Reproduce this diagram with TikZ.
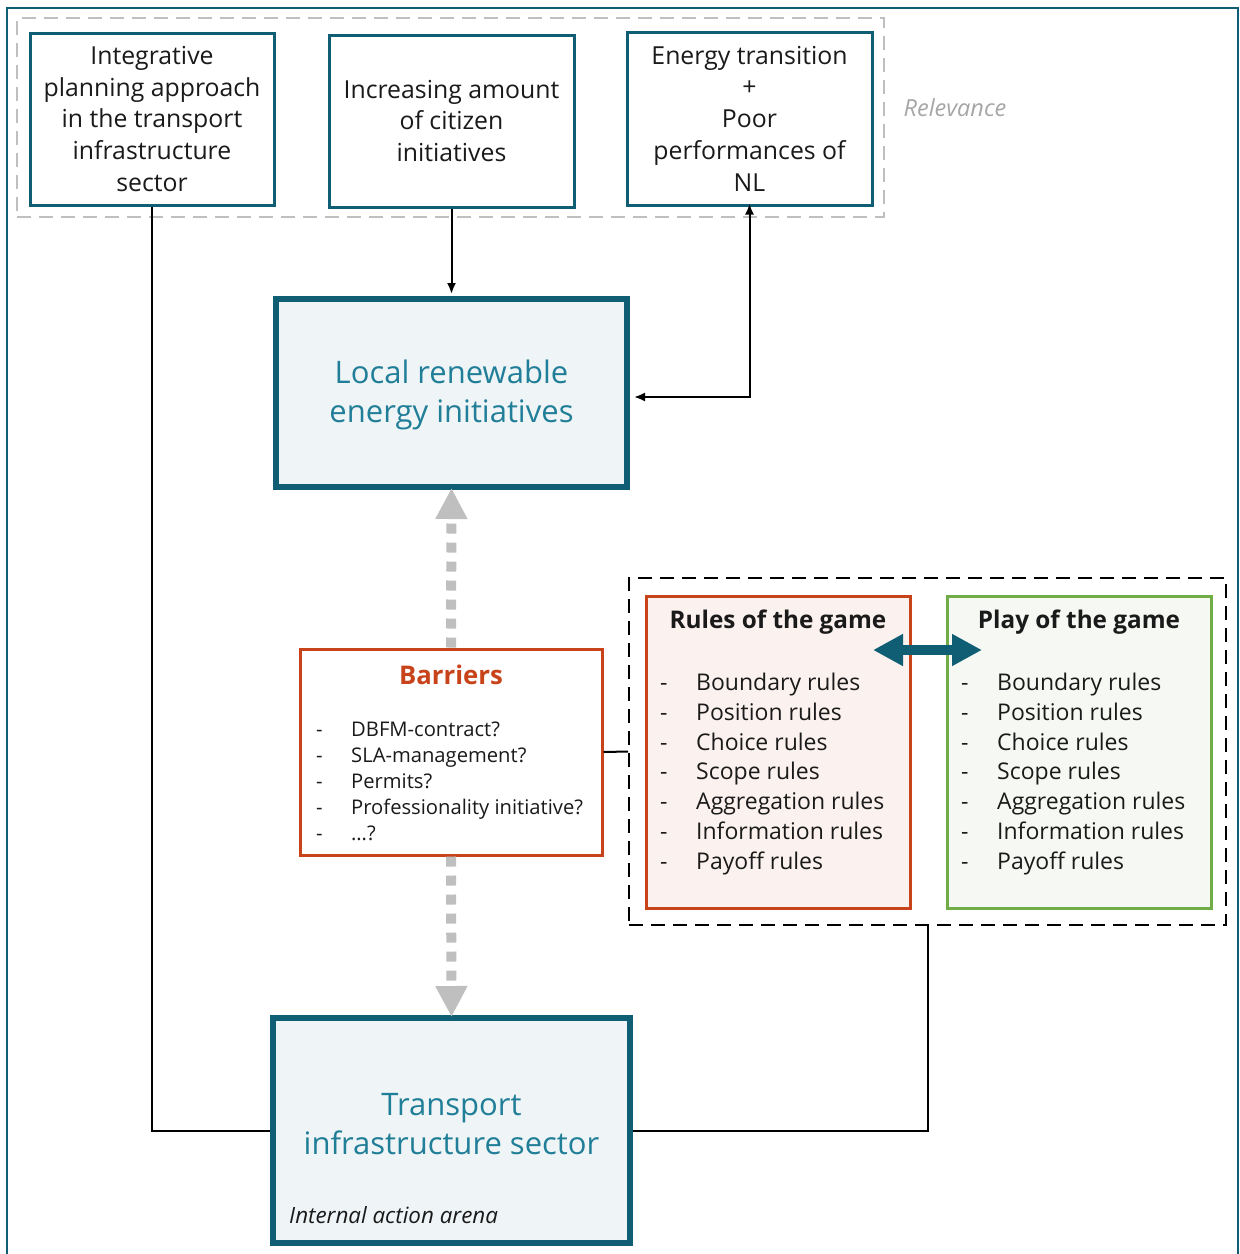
\documentclass[tikz,border=0pt]{standalone}
\usepackage{fontspec}
\setmainfont{Open Sans}
\usetikzlibrary{arrows.meta}
\definecolor{tealdark}{HTML}{0F5E74}
\definecolor{tealfill}{HTML}{EFF5F6}
\definecolor{tealtext}{HTML}{217E98}
\definecolor{barred}{HTML}{C9431A}
\definecolor{rulefill}{HTML}{FBF1EE}
\definecolor{playgreen}{HTML}{70AD47}
\definecolor{playfill}{HTML}{F6F9F3}
\definecolor{softgray}{HTML}{BFBFBF}
\definecolor{labelgray}{HTML}{A6A6A6}
\definecolor{ink}{HTML}{1A1A1A}
\begin{document}
\begin{tikzpicture}[x=1pt,y=-1pt,
  topbox/.style={draw=tealdark, line width=3pt, fill=white, align=center, inner sep=0pt,
    text=ink, font=\fontsize{24.8}{31.7}\selectfont, minimum width=244pt, minimum height=172pt},
  bigbox/.style={draw=tealdark, line width=6pt, fill=tealfill, inner sep=0pt},
  bigtext/.style={text=tealtext, align=center, font=\fontsize{31}{39}\selectfont},
  listbox/.style={draw, line width=3pt, inner sep=0pt, minimum width=264pt, minimum height=312pt},
  listtext/.style={align=left, anchor=west, text=ink, inner sep=0pt},
  gametitle/.style={text=ink, font=\fontsize{24.3}{28}\selectfont\bfseries},
  link/.style={draw=black, line width=2pt},
  smalltip/.tip={Latex[length=11pt,width=9pt]},
  graytip/.tip={Triangle[length=31pt,width=30pt]},
  bigtip/.tip={Triangle[length=30pt,width=30pt]},
  grayflow/.style={draw=softgray, line width=10pt, dash pattern=on 10pt off 9pt},
]
\useasboundingbox (0,0) rectangle (1240,1254);
% outer frame
\draw[tealdark, line width=2pt] (7,1262) -- (7,8) -- (1238,8) -- (1238,1262);

% relevance group
\node[draw=softgray, line width=2pt, dash pattern=on 14pt off 8pt, minimum width=867pt, minimum height=199pt, inner sep=0pt] (relbox) at (450.5,117.5) {};
\node[text=labelgray, font=\fontsize{23.5}{28}\selectfont\itshape] (rellabel) at (955,108) {Relevance};

\node[topbox] (integ) at (152,119) {Integrative\\planning approach\\in the transport\\infrastructure\\sector};
\node[topbox, minimum width=245pt] (citizen) at (451.5,121) {Increasing amount\\of citizen\\initiatives};
\node[topbox, minimum width=245pt, minimum height=173pt] (energy) at (749.5,118.5) {Energy transition\\+\\Poor\\performances of\\NL};

% central boxes
\node[bigbox, minimum width=351pt, minimum height=188pt] (local) at (451.5,393) {};
\node[bigtext] (localtxt) at (451.5,395) {Local renewable\\energy initiatives};

\node[bigbox, minimum width=357pt, minimum height=225pt] (transport) at (451.5,1130.5) {};
\node[bigtext] (transtxt) at (451.5,1124) {Transport\\infrastructure sector};
\node[anchor=west, text=ink, inner sep=0pt, font=\fontsize{22.4}{26}\selectfont\itshape] (arena) at (289,1215) {Internal action arena};

% barriers
\node[draw=barred, line width=3pt, fill=white, inner sep=0pt, minimum width=302pt, minimum height=206pt] (barriers) at (451,752) {};
\node[text=barred, font=\fontsize{25.7}{30}\selectfont\bfseries] (bartitle) at (451,675) {Barriers};
\node[listtext, font=\fontsize{20.2}{26}\selectfont] (barlist) at (316,781)
  {\makebox[35pt][l]{-}DBFM-contract?\\\makebox[35pt][l]{-}SLA-management?\\\makebox[35pt][l]{-}Permits?\\\makebox[35pt][l]{-}Professionality initiative?\\\makebox[35pt][l]{-}…?};

% rules and play of the game
\node[draw=black, line width=2pt, dash pattern=on 14pt off 8pt, inner sep=0pt, minimum width=597pt, minimum height=347pt] (gamebox) at (927.5,751.5) {};
\node[listbox, draw=barred, fill=rulefill] (rules) at (778,752) {};
\node[listbox, draw=playgreen, fill=playfill] (play) at (1079,752) {};
\node[gametitle] (rulestitle) at (778,622) {Rules of the game};
\node[gametitle] (playtitle) at (1079,622) {Play of the game};
\node[listtext, font=\fontsize{23}{29.8}\selectfont] (rulelist) at (660,774)
  {\makebox[36pt][l]{-}Boundary rules\\\makebox[36pt][l]{-}Position rules\\\makebox[36pt][l]{-}Choice rules\\\makebox[36pt][l]{-}Scope rules\\\makebox[36pt][l]{-}Aggregation rules\\\makebox[36pt][l]{-}Information rules\\\makebox[36pt][l]{-}Payoff rules};
\node[listtext, font=\fontsize{23}{29.8}\selectfont] (playlist) at (961,774)
  {\makebox[36pt][l]{-}Boundary rules\\\makebox[36pt][l]{-}Position rules\\\makebox[36pt][l]{-}Choice rules\\\makebox[36pt][l]{-}Scope rules\\\makebox[36pt][l]{-}Aggregation rules\\\makebox[36pt][l]{-}Information rules\\\makebox[36pt][l]{-}Payoff rules};
\coordinate (exl) at (873,650);
\coordinate (exr) at (982,650);
\draw[tealdark, line width=10pt, {bigtip}-{bigtip}] (exl) -- (exr);

% connectors
\draw[link, -{smalltip}, shorten >=2pt] (citizen.south) -- (local.north);
\draw[link, {smalltip}-{smalltip}, shorten <=4pt, shorten >=-3pt] ([yshift=-4pt]local.east) -| (energy.south);
\draw[link] (integ.south) |- (transport.west);
\draw[link] (gamebox.south) |- (transport.east);
\draw[link] (barriers.east) -- (gamebox.west);

% influence of the barriers
\draw[grayflow, -{graytip}, shorten >=-2pt] (barriers.north) -- (local.south);
\draw[grayflow, -{graytip}, shorten >=-2pt] (barriers.south) -- (transport.north);
\end{tikzpicture}
\end{document}
